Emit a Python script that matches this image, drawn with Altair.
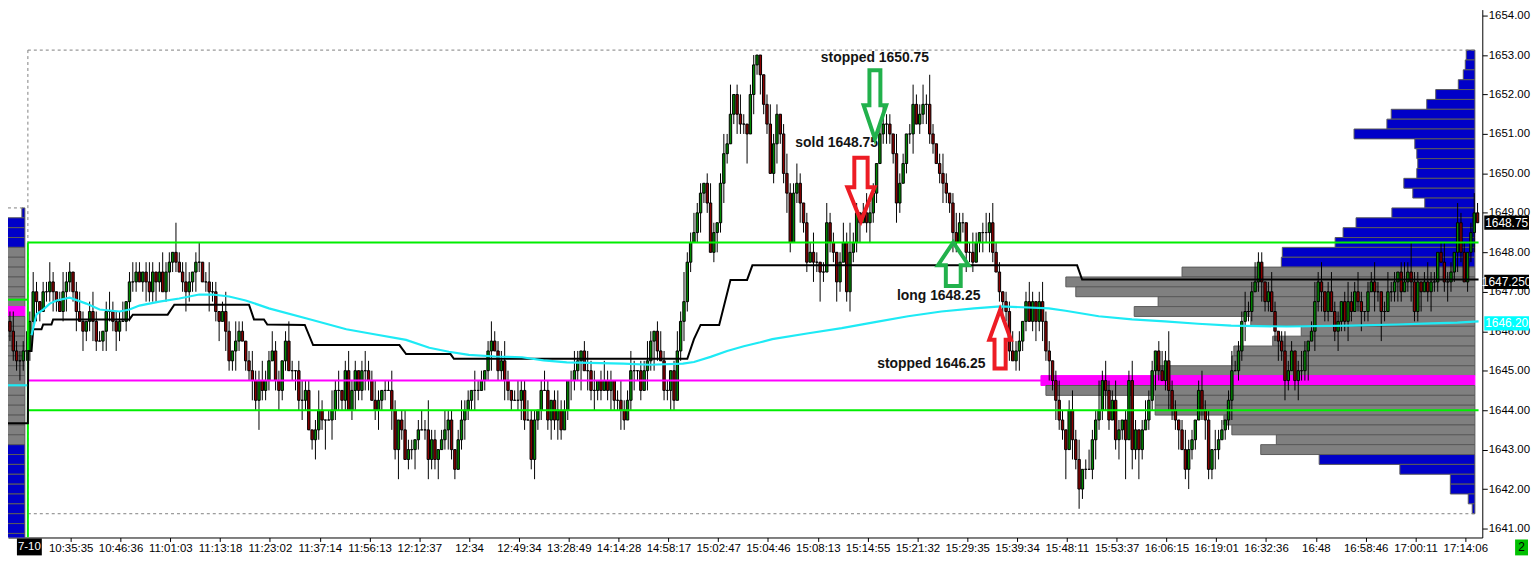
import altair as alt
import pandas as pd

# ---------------- data (prices in 0.25 ticks above 1640) ----------------
BASE, TICK = 1640.0, 0.25
first_open_tick = 25
prev_day_close = [24, 22, 21, 21, 22, 22]
seg_a = [25,28,27,26,28,28,29,28,27,26, 28,29,30,28,26,25,24,25,26,25, 23,23,24,26,26,25,24,25,25,27,
         29,29,30,29,30,29,28,30,29,30, 28,30,31,32,31,30,29,28,29,30, 31,31,29,29,28,28,26,25,26,24,
         21,22,23,24,23,21,20,19,17,19, 18,19]
seg_b = [21,22,19,18,21,23,20,20,20,17, 17,18,14,13,14,16,15,15,15,16, 18,18,17,20,16,18,20,18,20,20,
         19,17,16,17,18,18,18,16,12,15, 14,11,12,12,13,14,14,14,11,13, 11,12,13,14,15,12,10,13,15,16,
         17,18,18,18,19,20,22,23,22,20, 21,19,18,17,17,17,18]
seg_c = [15,15,11,15,16,18,18,15,17,15, 16,14,16,19,19,20,21,22,20,20, 18,18,19,18,19,18,19,17,17,16,
         15,17,20,20,20,18,20,21,23,24, 22,21,18,18,20,17,22,25,27,31]
seg_d = [33,34,36,38,39,37,32,34,35,39, 42,43,46,48,46,45,45,44,48,51, 52,50,47,45,40,43,46,44,40,38,
         33,38,39,37,35,31,32,31,31,30, 30,35,33,32,29,31,33,28,32,33, 36,35,36,35,36,38,41,44,45,45,
         44,42,37,39,41,44,44,47,45,46, 47,47,44,43,41,40,39,38,37,34, 33,35,35,32,32,31,33,34,34,34,
         35,32,30,28,27,26]
seg_e = [22,21,22,23,25,27,25,27,25,27, 25,22,21,19,17,15,14,12,16,13, 11,8,10,10,10,13,15,16,19,18,
         15,17,13,14,15,13,19,12,14,12, 14,15,17,20,22,20,19,21,18,16, 15,14,12,10,12,13,15,18,16,15,
         10,12,12,13,14,15,17,20,20,22, 25,26,26]
seg_f = [28,29,31,29,27,28,26,24,23,22, 19,20,22,19,20,20,22,23,24,27, 29,28,26,28,26,24,25,27,25,27,
         26,28,27,26,26,28,29,28,28,26, 26,28,28,29,30,28,29,30,29,26, 29,28,29,28,29,29,32,31,29,29,
         30,32,35,32,29,32,34,36,35]

up_prev = "121112"
dn_prev = "111211"
up_a = "1210112101 2110121012 1101211120 1211012101 2110311210 1201211012 1021101211 21"
dn_a = "1121011210 1211202112 1012112101 2110121121 0121101211 2101211202 1121011213 11"
up_b = "1211012101 2110121012 1201211012 1121011210 1211012131 1012110121 1021101211 1210121"
dn_b = "1012110121 2101211302 1211012112 1012110213 1011210121 1201211012 1121011201 1211012"
up_c = "1211012101 2110121012 1201211012 1121011210 1211012131"
dn_c = "1012110121 2101211302 1211012112 1012110213 1011210121"
up_d = "1211012101 2130121011 0001211012 1121011210 1211012131 1012110121 1021101211 2131012101 2110121012 121101"
dn_d = "1012110121 2101211302 1211012112 1012110213 1011210121 1201211012 1121011201 1211012112 1012110121 210121"
up_e = "1211012101 2110121012 1201211312 1121011210 1211012131 1012110121 1021101211 121"
dn_e = "1012110121 2121211302 1211012112 1012140213 1011210121 1201211012 1121011201 121"
up_f = "1211012101 2110121012 1201211012 1121011210 1211012131 1012110121 102110121"
dn_f = "1012110121 2101211302 1211012112 1012110213 1011210121 1201211012 112101120"

x_labels = ["10:35:35","10:46:36","11:01:03","11:13:18","11:23:02","11:37:14","11:56:13","12:12:37",
            "12:34","12:49:34","13:28:49","14:14:28","14:58:17","15:02:47","15:04:46","15:08:13",
            "15:14:55","15:21:32","15:29:35","15:39:34","15:48:11","15:53:37","16:06:15","16:19:01",
            "16:32:36","16:48","16:58:46","17:00:11","17:14:06"]
date_label = "7-10"

# session volume profile (top row 1653.00 downwards, 0.25 steps), length in bar units
profile_top = 1653.0
profile_len = [2.6,2.9,3.5,5.0,11.8,14.5,25.2,26.5,36.4,18.1, 17.5,17.2,17.5,21.4,18.7,15.1,25.0,35.8,39.7,42.1,
               58.0,58.3,88.2,123.2,120.2,95.4,102.6,67.5,52.3,60.9, 72.6,73.2,96.3,130.7,129.2,96.3,96.3,75.6,73.2,59.8,
               64.5,46.9,22.6,7.4,7.4,2.0,0.8]
va_low, va_high, poc = 1643.0, 1647.5, 1644.75

# previous-day profile (top row 1649.00 downwards)
left_top = 1649.0
left_len = [0.9,10.5,10.5,10.5,10.5,10.5,10.5,10.5,10.5,10.5, 10.5,10.5,10.5,10.5,10.5,10.5,10.5,10.5,10.5,10.5,
            10.5,10.5,10.5,10.5,10.5,10.5,10.5,10.5,10.5,10.5, 10.5,10.5,10.5,10.5,10.5]
left_va_low, left_va_high, left_poc = 1643.25, 1648.0, 1646.5

black_i = [-6.6,-0.6,-0.5,0.5,1.0,3.5,4.0,6.5,7.0,30.0, 31.0,41.5,43.5,66.0,67.5,70.5,71.5,82.8,85.3,111.3,
           113.3,126.7,127.7,198.0,200.0,202.0,207.6,211.0,216.0,217.6, 315.4,316.9,436.3]
black_p = [1643.67,1643.67,1645.5,1645.5,1646.05,1646.05,1646.17,1646.17,1646.3,1646.3,
           1646.42,1646.42,1646.67,1646.67,1646.3,1646.3,1646.17,1646.16,1645.65,1645.65,
           1645.42,1645.42,1645.3,1645.3,1645.8,1646.16,1646.16,1647.3,1647.3,1647.67,
           1647.67,1647.31,1647.31]
cyan_i = [0.5,2,4,6,8,12,17,21,27,30, 33,39,45,51,55,60,65,72,84.8,95.3,
          103.3,113.3,120.3,126.2,132.2,140.2,148.2,154.7,161.7,171.7, 178.7,186.7,196.7,200,205,210,215,220,223.6,234.5,
          244.5,254.5,264.5,274.5,284.4,292.4,306.9,311.9,321.9,331.9, 341.8,351.8,361.8,378.5,397.6,411.8,421.9,429.9,436.3]
cyan_p = [1645.9,1646.43,1646.55,1646.7,1646.78,1646.85,1646.7,1646.55,1646.5,1646.55,
          1646.65,1646.75,1646.83,1646.93,1646.93,1646.88,1646.78,1646.58,1646.29,1646.05,
          1645.93,1645.78,1645.58,1645.48,1645.4,1645.36,1645.34,1645.26,1645.21,1645.19,
          1645.18,1645.15,1645.18,1645.22,1645.35,1645.5,1645.62,1645.72,1645.8,1645.95,
          1646.08,1646.23,1646.38,1646.5,1646.58,1646.63,1646.58,1646.52,1646.38,1646.3,
          1646.25,1646.19,1646.14,1646.12,1646.14,1646.17,1646.2,1646.22,1646.25]
prev_cyan_i = [-6.6, -0.8]
prev_cyan_p = [1644.63, 1644.63]

green_hi, green_lo, prev_green = 1648.25, 1644.0, 1646.8
magenta_level = 1644.75
range_hi, range_lo, prev_range_hi = 1653.125, 1641.375, 1649.125
session_start, profile_right, line_end, magenta_end = -0.6, 435.2, 436.3, 304.5

ann_text = ["stopped 1650.75", "sold 1648.75", "long 1648.25", "stopped 1646.25"]
ann_i = [254.5, 243.0, 273.7, 271.5]
ann_p = [1652.92, 1650.78, 1646.895, 1645.157]

arrow_i = [254.5, 250.3, 278.1, 292.2]
arrow_p = [1651.745, 1649.595, 1647.70, 1645.799]
arrow_col = ["#22B14C", "#ED1C24", "#22B14C", "#ED1C24"]
arrow_size = [4761, 4058, 1936, 3481]
arrow_path = [
    "M-0.16,-1L0.16,-1L0.16,0.02L0.33,0.02L0,1L-0.33,0.02L-0.16,0.02Z",
    "M-0.21,-1L0.21,-1L0.21,-0.07L0.43,-0.07L0,1L-0.43,-0.07L-0.21,-0.07Z",
    "M0,-1L0.7,0.05L0.34,0.05L0.34,1L-0.34,1L-0.34,0.05L-0.7,0.05Z",
    "M0,-1L0.37,0.02L0.19,0.02L0.19,1L-0.19,1L-0.19,0.02L-0.37,0.02Z",
]

tag_p = [1648.75, 1647.25, 1646.20]
tag_text = ["1648.75", "1647.250", "1646.20"]
tag_bg = ["#000000", "#000000", "#00FFFF"]

# ---------------- layout ----------------
W, H = 1483, 531
BAR_PX = 3.34
PX_PER_PT = 39.69
X_MIN = (8 - 30) / BAR_PX
X_MAX = X_MIN + W / BAR_PX
Y_MAX = 1654 + 6 / PX_PER_PT
Y_MIN = Y_MAX - H / PX_PER_PT

FONT = "Liberation Sans"

def clean(s):
    return "".join(s.split())

closes = prev_day_close + seg_a + seg_b + seg_c + seg_d + seg_e + seg_f
up = clean(up_prev + up_a + up_b + up_c + up_d + up_e + up_f)
dn = clean(dn_prev + dn_a + dn_b + dn_c + dn_d + dn_e + dn_f)
up = (up + "1" * len(closes))[:len(closes)]
dn = (dn + "1" * len(closes))[:len(closes)]

rows = []
prev = first_open_tick
for k, c in enumerate(closes):
    i = k - len(prev_day_close)
    o = prev
    hi = max(o, c) + int(up[k])
    lo = min(o, c) - int(dn[k])
    fill = "#008800" if c > o else ("#8B0000" if c < o else "#000000")
    rows.append(dict(i=i, xl=i - 0.36, xr=i + 0.36, open=BASE + o * TICK, close=BASE + c * TICK,
                     high=BASE + hi * TICK, low=BASE + lo * TICK, fill=fill))
    prev = c
bars = pd.DataFrame(rows)

def prof_df(top, lens, right, lo_va, hi_va, poc_p):
    out = []
    for k, ln in enumerate(lens):
        p = top - 0.25 * k
        if abs(p - poc_p) < 1e-9:
            f, s = "#FF00FF", "#FF00FF"
        elif lo_va - 1e-9 <= p <= hi_va + 1e-9:
            f, s = "#808080", "#5A5A5A"
        else:
            f, s = "#0000C8", "#5A5A5A"
        out.append(dict(xl=right - ln, xr=right, plo=p - 0.125, phi=p + 0.125, fill=f, stroke=s))
    return pd.DataFrame(out)

right_prof = prof_df(profile_top, profile_len, profile_right, va_low, va_high, poc)
left_prof = prof_df(left_top, left_len, -1.5, left_va_low, left_va_high, left_poc)

lab_js = ",".join("'" + s + "'" for s in x_labels)
xtick_vals = [12.3 + 15 * k for k in range(len(x_labels))]
xs = alt.Scale(domain=[X_MIN, X_MAX], nice=False, zero=False)
ys = alt.Scale(domain=[Y_MIN, Y_MAX], nice=False, zero=False)
xax = alt.Axis(values=xtick_vals, labelExpr=f"[{lab_js}][round((datum.value - 12.3) / 15)]",
               title=None, grid=False, tickSize=4, tickColor="black", domainColor="black",
               labelColor="black", labelFont=FONT, labelFontSize=11.5, labelPadding=1,
               labelOverlap=False, labelFlush=False)
yax = alt.Axis(orient="right", values=list(range(1641, 1655)), format=".2f", title=None, grid=False,
               tickSize=5, tickColor="black", domainColor="black", labelColor="black",
               labelFont=FONT, labelFontSize=11.5, labelPadding=1, labelOverlap=False, labelFlush=False)

def X(f):
    return alt.X(f, type="quantitative", scale=xs, axis=xax)

def Y(f):
    return alt.Y(f, type="quantitative", scale=ys, axis=yax)

# profiles
left_layer = alt.Chart(left_prof).mark_rect(strokeWidth=1, clip=True).encode(
    x=X("xl"), x2=alt.X2("xr"), y=Y("plo"), y2=alt.Y2("phi"),
    color=alt.Color("fill:N", scale=None), stroke=alt.Stroke("stroke:N", scale=None))
right_layer = alt.Chart(right_prof).mark_rect(strokeWidth=1, clip=True).encode(
    x=X("xl"), x2=alt.X2("xr"), y=Y("plo"), y2=alt.Y2("phi"),
    color=alt.Color("fill:N", scale=None), stroke=alt.Stroke("stroke:N", scale=None))

# dashed range lines
dash_df = pd.DataFrame([
    dict(x0=session_start, x1=profile_right, y0=range_hi, y1=range_hi),
    dict(x0=session_start, x1=profile_right, y0=range_lo, y1=range_lo),
    dict(x0=X_MIN, x1=-1.5, y0=prev_range_hi, y1=prev_range_hi),
    dict(x0=session_start, x1=session_start, y0=range_hi, y1=Y_MIN),
])
dash_layer = alt.Chart(dash_df).mark_rule(color="#808080", strokeWidth=1, strokeDash=[3, 3], clip=True).encode(
    x=X("x0"), x2=alt.X2("x1"), y=Y("y0"), y2=alt.Y2("y1"))

# candles
wick_layer = alt.Chart(bars).mark_rule(color="black", strokeWidth=1, clip=True).encode(
    x=X("i"), y=Y("low"), y2=alt.Y2("high"))
body_layer = alt.Chart(bars).mark_rect(stroke="black", strokeWidth=1, clip=True).encode(
    x=X("xl"), x2=alt.X2("xr"), y=Y("open"), y2=alt.Y2("close"),
    color=alt.Color("fill:N", scale=None))

# level lines
lvl_df = pd.DataFrame([
    dict(x0=session_start, x1=line_end, y0=green_hi, y1=green_hi, c="#00EE00"),
    dict(x0=session_start, x1=line_end, y0=green_lo, y1=green_lo, c="#00EE00"),
    dict(x0=X_MIN, x1=session_start, y0=prev_green, y1=prev_green, c="#00EE00"),
    dict(x0=session_start, x1=session_start, y0=green_hi, y1=Y_MIN, c="#00EE00"),
    dict(x0=session_start, x1=magenta_end, y0=magenta_level, y1=magenta_level, c="#FF00FF"),
])
lvl_layer = alt.Chart(lvl_df).mark_rule(strokeWidth=2, clip=True).encode(
    x=X("x0"), x2=alt.X2("x1"), y=Y("y0"), y2=alt.Y2("y1"), color=alt.Color("c:N", scale=None))

black_df = pd.DataFrame(dict(i=black_i, p=black_p, k=list(range(len(black_i)))))
black_layer = alt.Chart(black_df).mark_line(color="black", strokeWidth=2, clip=True).encode(
    x=X("i"), y=Y("p"), order=alt.Order("k:Q"))

cyan_df = pd.concat([
    pd.DataFrame(dict(i=prev_cyan_i, p=prev_cyan_p, seg="prev")),
    pd.DataFrame(dict(i=cyan_i, p=cyan_p, seg="cur")),
], ignore_index=True)
cyan_df["k"] = range(len(cyan_df))
cyan_layer = alt.Chart(cyan_df).mark_line(color="#1EEAF5", strokeWidth=2.2, clip=True).encode(
    x=X("i"), y=Y("p"), detail="seg:N", order=alt.Order("k:Q"))

# arrows & annotations
arrow_df = pd.DataFrame(dict(i=arrow_i, p=arrow_p, col=arrow_col, size=arrow_size, path=arrow_path))
arrow_layer = alt.Chart(arrow_df).mark_point(filled=False, strokeWidth=4, opacity=1).encode(
    x=X("i"), y=Y("p"), shape=alt.Shape("path:N", scale=None), size=alt.Size("size:Q", scale=None),
    color=alt.Color("col:N", scale=None))
ann_df = pd.DataFrame(dict(i=ann_i, p=ann_p, t=ann_text))
ann_layer = alt.Chart(ann_df).mark_text(font=FONT, fontSize=14, fontWeight="bold", color="#141414",
                                        align="center", baseline="middle").encode(
    x=X("i"), y=Y("p"), text="t:N")

# price tags on the axis
tag_df = pd.DataFrame(dict(p=tag_p, t=tag_text, bg=tag_bg))
tag_df["plo"] = tag_df["p"] - 0.18
tag_df["phi"] = tag_df["p"] + 0.18
tag_rect = alt.Chart(tag_df).mark_rect().encode(
    x=alt.value(W + 2), x2=alt.value(W + 47), y=Y("plo"), y2=alt.Y2("phi"),
    color=alt.Color("bg:N", scale=None))
tag_text_layer = alt.Chart(tag_df).mark_text(font=FONT, fontSize=12, color="white", align="center",
                                             baseline="middle").encode(
    x=alt.value(W + 24.5), y=Y("p"), text="t:N")

date_df = pd.DataFrame(dict(a=[-3.9], b=[3.6], c=[-0.15], t=[date_label]))
date_rect = alt.Chart(date_df).mark_rect(color="black").encode(
    x=X("a"), x2=alt.X2("b"), y=alt.value(H + 1), y2=alt.value(H + 18))
date_text = alt.Chart(date_df).mark_text(font=FONT, fontSize=11.5, color="white", align="center",
                                         baseline="middle").encode(
    x=X("c"), y=alt.value(H + 10), text="t:N")

badge_df = pd.DataFrame(dict(t=["2"]))
badge_rect = alt.Chart(badge_df).mark_rect(color="#00C000").encode(
    x=alt.value(W + 33), x2=alt.value(W + 46), y=alt.value(H + 2), y2=alt.value(H + 18))
badge_text = alt.Chart(badge_df).mark_text(font=FONT, fontSize=12, color="black", align="center",
                                           baseline="middle").encode(
    x=alt.value(W + 39.5), y=alt.value(H + 10), text="t:N")

chart = alt.layer(
    left_layer, right_layer, dash_layer, wick_layer, body_layer, lvl_layer, black_layer, cyan_layer,
    ann_layer, arrow_layer, tag_rect, tag_text_layer, date_rect, date_text, badge_rect, badge_text
).properties(width=W, height=H, background="white", padding=0).configure_view(strokeWidth=0)

chart.save("out.html", embed_options={"renderer": "svg", "actions": False})
